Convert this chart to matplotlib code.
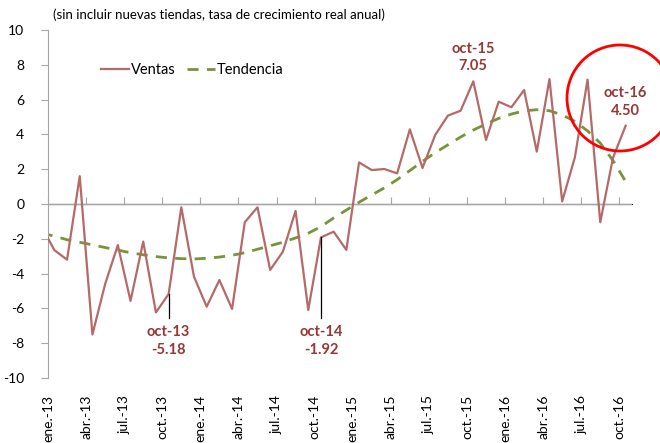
import matplotlib
matplotlib.use("Agg")
import matplotlib.pyplot as plt
from matplotlib.patches import Ellipse
import numpy as np

plt.rcParams['font.family'] = ['Lato', 'DejaVu Sans']
plt.rcParams['axes.unicode_minus'] = False

# monthly data, dic-12 .. oct-16 (dic-12 only partly visible at the left edge)
months = ["dic-12"] + [f"{m}-{y}" for y in ["13", "14", "15", "16"]
                       for m in ["ene", "feb", "mar", "abr", "may", "jun",
                                 "jul", "ago", "sep", "oct", "nov", "dic"]][:46]

ventas = [-1.3,
          -2.65, -3.2, 1.6, -7.5, -4.6, -2.36, -5.57, -2.16, -6.23, -5.18, -0.19, -4.18,
          -5.9, -4.37, -6.03, -1.05, -0.19, -3.79, -2.74, -0.40, -6.09, -1.92, -1.59, -2.64,
          2.39, 1.95, 2.01, 1.76, 4.29, 2.07, 3.97, 5.08, 5.36, 7.05, 3.68, 5.88,
          5.56, 6.55, 3.01, 7.18, 0.15, 2.68, 7.15, -1.05, 2.65, 4.50]

tendencia = [-1.67,
             -1.85, -2.05, -2.2, -2.35, -2.5, -2.65, -2.8, -2.92, -3.02, -3.1, -3.14, -3.16,
             -3.12, -3.05, -2.95, -2.8, -2.6, -2.4, -2.2, -1.95, -1.68, -1.3, -0.8, -0.35,
             0.1, 0.52, 0.93, 1.4, 1.92, 2.45, 2.95, 3.4, 3.85, 4.25, 4.6, 4.92,
             5.17, 5.35, 5.42, 5.36, 5.12, 4.75, 4.2, 3.5, 2.5, 1.3]

tick_labels = ["ene.-13", "abr.-13", "jul.-13", "oct.-13",
               "ene.-14", "abr.-14", "jul.-14", "oct.-14",
               "ene.-15", "abr.-15", "jul.-15", "oct.-15",
               "ene.-16", "abr.-16", "jul.-16", "oct.-16"]

# annotated points: (month label, value)
notes = [("oct-13", -5.18), ("oct-14", -1.92), ("oct-15", 7.05), ("oct-16", 4.50)]

title = "(sin incluir nuevas tiendas, tasa de crecimiento real anual)"

fig = plt.figure(figsize=(6.6, 4.43), dpi=100)
ax = fig.add_axes([48/660, 65/443, 584/660, 348/443])

x = np.arange(len(months)) - 1 + 0.5   # month centres; dic-12 lies left of the axis

c_line = "#B56A69"
c_trend = "#77933C"
c_note = "#953735"
c_axis = "#A6A6A6"

ax.axhline(0, color=c_axis, lw=1.0, zorder=1)
ax.plot(x, ventas, color=c_line, lw=1.6, label="Ventas", zorder=3)
ax.plot(x, tendencia, color=c_trend, lw=2.0, dashes=(4, 3), label="Tendencia", zorder=2)

ax.set_xlim(0, 46)
ax.set_ylim(-10, 10)
ax.set_yticks(np.arange(-10, 11, 2))
ax.set_xticks(np.arange(0, 46, 3))
ax.set_xticklabels(tick_labels, rotation=90, fontsize=10)
ax.tick_params(axis='x', length=0, pad=12)
ax.tick_params(axis='y', length=5, color=c_axis, labelsize=10, pad=12)
for s in ["top", "right", "bottom"]:
    ax.spines[s].set_visible(False)
ax.spines["left"].set_color(c_axis)

# tick marks on the zero line
sec = ax.secondary_xaxis(0.5)
sec.set_xticks(np.arange(0, 46, 3))
sec.set_xticklabels([])
sec.tick_params(length=5, color=c_axis, direction='out')
sec.spines["bottom"].set_visible(False)

# annotations (text positions in data units)
text_y = {"oct-13": -7.87, "oct-14": -7.87, "oct-15": 8.42, "oct-16": 5.86}
for lab, val in notes:
    xi = x[months.index(lab)]
    if val < 0:
        ax.plot([xi, xi], [val, -6.55], color="black", lw=0.9, zorder=4)
    ax.text(xi, text_y[lab], f"{lab}\n{val:.2f}", ha="center", va="center",
            color=c_note, fontweight="bold", fontsize=10.5, linespacing=1.3)

leg = ax.legend(loc="upper left", bbox_to_anchor=(0.068, 0.9415), ncol=2, frameon=False,
                fontsize=10.5, handlelength=1.9, handletextpad=0.15, columnspacing=0.8)

fig.text(53/660, 1 - 15/443, title, ha="left", va="center", fontsize=9.5)

circ = Ellipse((620/660, 1 - 98/443), 106/660, 106/443, transform=fig.transFigure,
               fill=False, edgecolor="#FF0000", lw=2.0, clip_on=False)
fig.patches.append(circ)

fig.savefig("out.png", dpi=100)
